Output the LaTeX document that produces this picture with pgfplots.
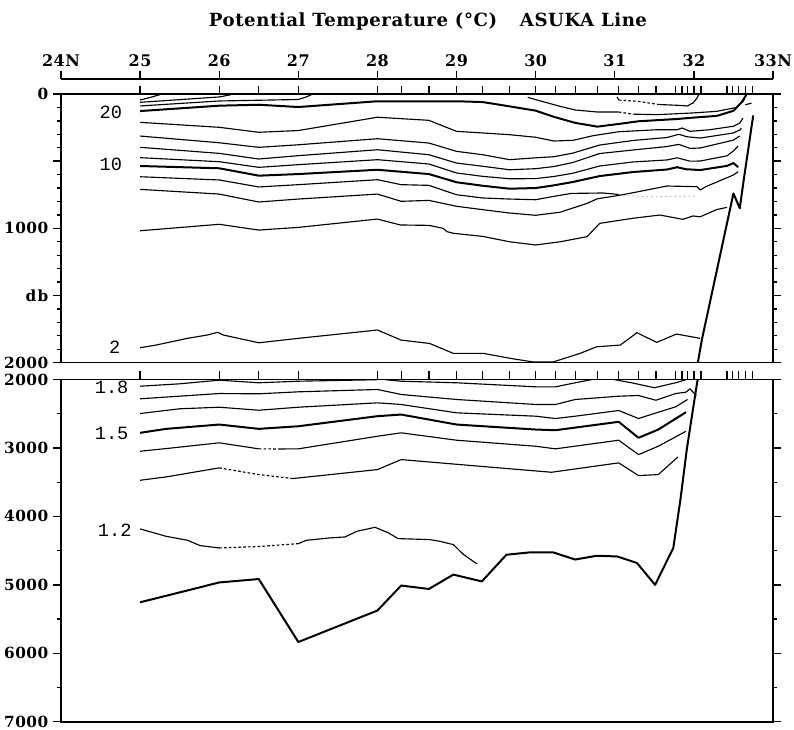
\documentclass[border=0pt]{standalone}
\usepackage{fontspec}
\setmainfont{DejaVu Serif}
\newfontfamily\tkfont{DejaVu Serif}[LetterSpace=3.0]
\newfontfamily\labfont{Liberation Mono}
\usepackage{pgfplots}
\pgfplotsset{compat=1.18}

\pgfplotsset{
  cl/.style={black,line width=0.85pt,line join=round},
  ck/.style={black,line width=1.5pt,line join=round},
  cd/.style={black,line width=0.85pt,dash pattern=on 2pt off 1.6pt},
  cf/.style={black!35,line width=0.7pt,dash pattern=on 1pt off 2.5pt},
  panel/.style={
    scale only axis, width=534pt, xmin=24, xmax=33, y dir=reverse,
    anchor=north west,
    axis line style={line width=1.2pt},
    tick style={line width=1pt,black},
    tick align=outside, major tick length=6pt, minor tick length=3pt,
    xtick pos=upper, ytick pos=both,
    xtick={25,26,26.5,27,28,28.3,28.65,29,29.33,29.67,30,30.25,30.5,30.78,31.05,31.3,31.52,31.77,31.85,31.92,32.0,32.09,32.42,32.49,32.56,32.65,32.74},
    xticklabels={,,},
    yticklabel style={font=\tkfont\bfseries\fontsize{11.5}{12}\selectfont},
    clip=false,
  },
}

\begin{document}
\begin{tikzpicture}[x=0.75pt,y=-0.75pt]
\path[use as bounding box] (0,0) rectangle (794,730);
\coordinate (S) at (61,79);
\coordinate (A) at (61,94);
\coordinate (B) at (61,379.5);

\node[font=\tkfont\bfseries\fontsize{13.6}{14}\selectfont] at (428,22)
  {Potential Temperature (°C)\hspace{17pt}ASUKA Line};

% latitude scale above the section
\begin{axis}[scale only axis, width=534pt, height=1pt, at={(S)}, anchor=north west,
  xmin=24, xmax=33, ymin=0, ymax=1, axis x line=top, hide y axis,
  x axis line style={-,line width=1.2pt}, tick style={line width=1pt,black},
  tick align=outside, major tick length=6pt,
  xtick={24,25,...,33}, xticklabels={24N,25,26,27,28,29,30,31,32,33N},
  xticklabel style={font=\tkfont\bfseries\fontsize{12}{12}\selectfont}]
\addplot[draw=none] coordinates {(24,0) (33,1)};
\end{axis}

% upper panel 0-2000 db
\begin{axis}[panel, at={(A)}, height=201.5pt, ymin=0, ymax=2000,
  ytick={0,500,1000,1500,2000}, yticklabels={0,,1000,{d\kern1pt b},2000},
  minor y tick num=4]
% 26
\addplot[cl] coordinates {(25,45) (25.15,22) (25.25,5)};
% 24
\addplot[cl] coordinates {(25,62) (25.5,42) (26,22) (26.15,5)};
\addplot[cl] coordinates {(31.03,22) (31.05,45)};
\addplot[cd] coordinates {(31.05,45) (31.3,55) (31.55,78)};
\addplot[cl] coordinates {(31.55,78) (31.79,84) (31.92,89) (31.95,78) (31.99,67) (32.04,30) (32.06,5)};
% 22
\addplot[cl] coordinates {(25,89) (26,52) (27,41) (27.1,22) (27.17,4)};
\addplot[cl] coordinates {(29.9,25) (30,42) (30.31,92) (30.5,119) (30.78,134) (31.05,134)};
\addplot[cd] coordinates {(31.05,134) (31.23,150)};
\addplot[cl] coordinates {(31.23,150) (31.53,154) (31.99,141) (32.29,129) (32.55,99) (32.62,42) (32.66,7)};
\addplot[cl] coordinates {(32.65,80) (32.73,68)};
% 20
\addplot[ck] coordinates {(25,127) (26,87) (26.5,80) (27,97) (28,54) (28.65,54) (29,54) (29.33,60) (29.67,92) (30,124) (30.23,170) (30.5,215) (30.78,243) (31.05,223) (31.3,203) (31.79,186) (31.99,176) (32.29,163) (32.5,125) (32.62,52) (32.66,7)};
% 18
\addplot[cl] coordinates {(25,211) (26,248) (26.5,285) (27,272) (28,173) (28.65,196) (29,278) (29.33,290) (29.67,303) (30,322) (30.23,350) (30.47,345) (30.73,310) (31.05,281) (31.53,266) (31.79,266) (31.85,253) (31.95,278) (32.2,266) (32.5,240) (32.58,216) (32.62,180)};
% 16
\addplot[cl] coordinates {(25,313) (26,363) (26.5,397) (27,378) (28,333) (28.65,365) (29,427) (29.33,452) (29.67,489) (30,475) (30.23,467) (30.47,440) (30.81,380) (31.23,346) (31.66,324) (31.81,300) (31.91,318) (32.08,328) (32.5,290) (32.58,268) (32.6,255)};
% 14
\addplot[cl] coordinates {(25,397) (26,442) (26.5,484) (27,459) (28,415) (28.65,452) (29,514) (29.33,538) (29.67,564) (30,556) (30.23,540) (30.47,510) (30.81,443) (31.23,417) (31.66,391) (31.81,375) (31.95,405) (32.08,402) (32.5,343) (32.58,313)};
% 12
\addplot[cl] coordinates {(25,474) (26,504) (26.5,546) (27,526) (28,489) (28.65,521) (29,588) (29.33,613) (29.67,631) (30,630) (30.23,614) (30.47,590) (30.81,536) (31.23,506) (31.66,491) (31.79,475) (31.95,500) (32.08,499) (32.42,460) (32.5,424) (32.56,387)};
% 10
\addplot[ck] coordinates {(25,536) (26,553) (26.5,608) (27,596) (28,564) (28.65,596) (29,657) (29.33,683) (29.67,705) (30,700) (30.23,680) (30.47,655) (30.81,611) (31.23,581) (31.66,562) (31.79,545) (31.9,560) (32.08,566) (32.42,535) (32.5,514) (32.56,545)};
% 8
\addplot[cl] coordinates {(25,616) (26,640) (26.5,692) (27,675) (28,638) (28.3,675) (28.65,680) (29,750) (29.33,774) (29.67,782) (30,787) (30.23,762) (30.45,740) (30.85,737) (31.05,748)};
\addplot[cf] coordinates {(31.05,755) (31.5,765) (32.05,760)};
% 6
\addplot[cl] coordinates {(25,710) (26,745) (26.5,804) (27,782) (28,745) (28.3,799) (28.65,792) (29,836) (29.33,861) (29.67,886) (30,903) (30.31,880) (30.65,814) (30.78,780) (31.0,760) (31.23,735) (31.66,685) (32.04,690) (32.08,715) (32.15,690) (32.5,603) (32.56,578)};
% 4
\addplot[cl] coordinates {(25,1018) (26,970) (26.5,1013) (27,993) (28,931) (28.29,975) (28.65,978) (28.83,1000) (28.88,1025) (28.96,1037) (29.33,1060) (29.67,1100) (30,1124) (30.31,1100) (30.65,1062) (30.81,963) (31.23,925) (31.57,901) (31.86,933) (31.99,908) (32.08,914) (32.29,860) (32.42,844)};
% 2
\addplot[cl] coordinates {(25,1889) (25.2,1869) (25.6,1819) (25.85,1794) (25.98,1774) (26.05,1794) (26.5,1852) (27,1819) (28,1757) (28.3,1832) (28.66,1857) (28.96,1931) (29.34,1931) (29.68,1968) (29.97,1995) (30.22,1995) (30.56,1931) (30.77,1882) (31.07,1869) (31.28,1777) (31.53,1849) (31.78,1787) (32.08,1819)};
% bottom
\addplot[ck] coordinates {(32.05,2000) (32.10,1832) (32.50,740) (32.58,851) (32.63,640) (32.75,160)};
\node[font=\labfont\fontsize{14}{14}\selectfont] at (axis cs:24.63,134) {20};
\node[font=\labfont\fontsize{14}{14}\selectfont] at (axis cs:24.63,521) {10};
\node[font=\labfont\fontsize{14}{14}\selectfont] at (axis cs:24.68,1884) {2};
\end{axis}

% lower panel 2000-7000 db
\begin{axis}[panel, at={(B)}, height=256.7pt, ymin=2000, ymax=7000,
  ytick={2000,3000,...,7000}, yticklabels={2000,3000,4000,5000,6000,7000},
  minor y tick num=1]
% 1.8
\addplot[cl] coordinates {(25,2098) (25.5,2063) (26,2010) (26.5,2048) (27,2025) (28,2003)};
\addplot[cl] coordinates {(28.1,2003) (28.3,2025) (29,2048) (30,2107) (30.25,2107) (30.5,2048) (30.7,2003)};
\addplot[cl] coordinates {(31.0,2003) (31.2,2045) (31.5,2120) (31.78,2045) (31.9,2003)};
% 1.7
\addplot[cl] coordinates {(25,2282) (26,2205) (26.5,2209) (27,2180) (28,2146) (28.3,2219) (29,2292) (30,2365) (30.25,2365) (30.5,2292) (31.05,2244) (31.3,2234) (31.52,2303) (31.77,2205) (31.9,2185) (31.95,2136) (32.03,2234)};
% 1.6
\addplot[cl] coordinates {(25,2497) (25.5,2428) (26,2405) (26.5,2449) (27,2405) (28,2341) (28.3,2365) (29,2487) (30,2536) (30.25,2570) (30.5,2536) (31.05,2453) (31.3,2570) (31.55,2478) (31.77,2399) (31.92,2292)};
% 1.5
\addplot[ck] coordinates {(25,2779) (25.33,2721) (26,2658) (26.5,2721) (27,2683) (28,2536) (28.3,2512) (29,2658) (30,2731) (30.25,2741) (31.05,2618) (31.3,2852) (31.55,2731) (31.9,2478)};
% 1.4
\addplot[cl] coordinates {(25,3048) (25.33,3009) (26,2925) (26.5,3013)};
\addplot[cd] coordinates {(26.5,3013) (26.75,3015)};
\addplot[cl] coordinates {(26.75,3015) (27,3013) (28,2829) (28.3,2779) (29,2887) (30,2975) (30.25,3013) (31.05,2887) (31.3,3097) (31.55,2975) (31.9,2756)};
% 1.3
\addplot[cl] coordinates {(25,3472) (25.33,3423) (26,3291)};
\addplot[cd] coordinates {(26,3291) (26.5,3389) (26.93,3447)};
\addplot[cl] coordinates {(26.93,3447) (28,3316) (28.3,3170) (29.3,3268) (30.2,3355) (31.05,3218) (31.3,3404) (31.55,3389) (31.8,3130)};
% 1.2
\addplot[cl] coordinates {(25,4183) (25.33,4291) (25.6,4349) (25.76,4427) (26,4461)};
\addplot[cd] coordinates {(26,4461) (26.5,4440) (27,4398)};
\addplot[cl] coordinates {(27,4398) (27.1,4349) (27.4,4314) (27.59,4300) (27.74,4218) (27.97,4159) (28.14,4241) (28.26,4324) (28.66,4339) (28.79,4364) (28.96,4412) (29.09,4559) (29.26,4695)};
% bottom
\addplot[ck] coordinates {(25,5255) (26,4965) (26.5,4915) (27,5835) (28,5375) (28.3,5010) (28.65,5060) (28.96,4850) (29.32,4950) (29.63,4560) (29.93,4525) (30.22,4525) (30.5,4630) (30.77,4575) (31.03,4585) (31.28,4680) (31.51,5000) (31.74,4460) (31.83,3755) (31.91,3025) (32.04,2050) (32.05,2000)};
\node[font=\labfont\fontsize{14}{14}\selectfont] at (axis cs:24.64,2117) {1.8};
\node[font=\labfont\fontsize{14}{14}\selectfont] at (axis cs:24.64,2789) {1.5};
\node[font=\labfont\fontsize{14}{14}\selectfont] at (axis cs:24.68,4208) {1.2};
\end{axis}
\end{tikzpicture}
\end{document}
